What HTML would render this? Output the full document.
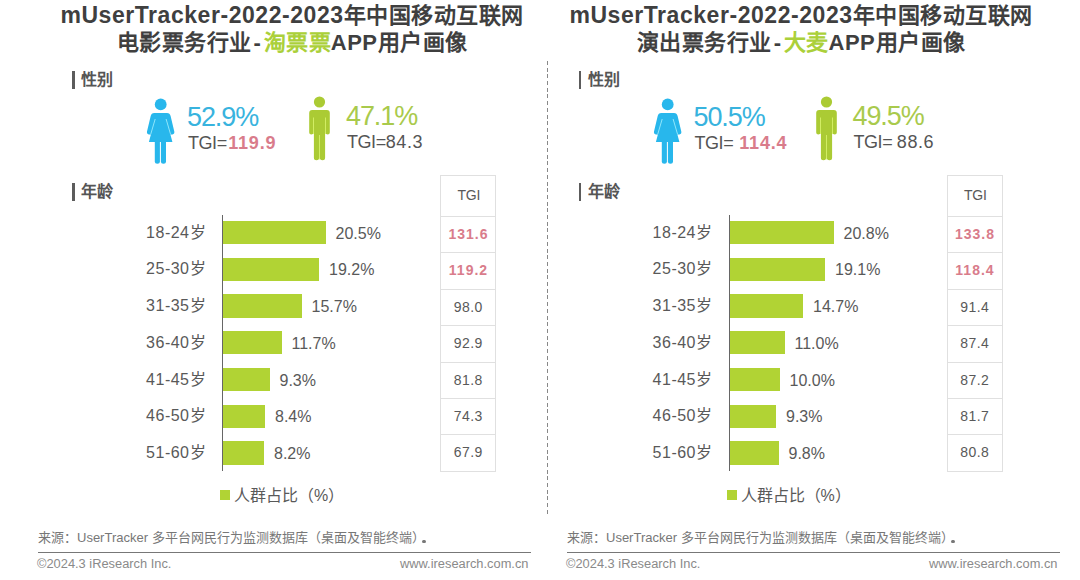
<!DOCTYPE html>
<html lang="zh-CN"><head><meta charset="utf-8"><style>
*{margin:0;padding:0;box-sizing:border-box}
html,body{width:1080px;height:580px;background:#fff;overflow:hidden}
body{position:relative;font-family:"Liberation Sans",sans-serif;color:#595959}
.a{position:absolute;white-space:nowrap}
.c{display:inline-block;text-align:center;letter-spacing:0;text-indent:0}
.panel{position:absolute;top:0;width:540px;height:580px}
.title{position:absolute;width:540px;text-align:center;font-weight:bold;font-size:22px;line-height:26px;color:#3f3f3f;letter-spacing:0.5px;white-space:nowrap}
.title .l{letter-spacing:0.55px;font-size:23px}
.title .d{margin:0 2px}
.title .g{color:#abd03a}
.sec{position:absolute;white-space:nowrap;left:72px;font-weight:bold;font-size:16px;line-height:18px;color:#555}
.sec i{position:absolute;left:0.3px;top:0;width:2.5px;height:18px;background:#5c5c5c}
.sec>span{position:absolute;left:9px;top:0}
.pct{position:absolute;white-space:nowrap;font-size:27px;line-height:26px;letter-spacing:-1.1px}
.tgi{position:absolute;white-space:nowrap;font-size:18px;line-height:20px;color:#555}
.tgi s{text-decoration:none;letter-spacing:-0.45px}
.tgi u{text-decoration:none;letter-spacing:0.6px}
.tgi b{color:#d97c8b;margin-left:1.5px;letter-spacing:0.8px}
.axis{position:absolute;left:222px;top:214.5px;width:1px;height:256px;background:#666}
.bar{position:absolute;left:223px;background:#b1d334}
.lab{position:absolute;width:60px;left:146px;text-align:right;font-size:16px;line-height:20px;color:#595959;letter-spacing:0.5px;white-space:nowrap}
.val{position:absolute;font-size:16px;line-height:20px;color:#595959;white-space:nowrap}
.tbl{position:absolute;left:440px;top:175px;width:56px;border:1px solid #e0e0e0}
.tbl div{border-top:1px solid #e0e0e0;text-align:center;font-size:14px;color:#595959;letter-spacing:0.4px;text-indent:0.4px}
.tbl div.r{color:#d97c8b;font-weight:bold;letter-spacing:1px;text-indent:1px}
.leg{position:absolute;left:220px;top:489.5px;width:10px;height:10px;background:#b1d334}
.legt{position:absolute;left:234px;font-size:16px;line-height:20px;color:#595959;white-space:nowrap}
.src{position:absolute;font-size:13px;line-height:14px;color:#777;white-space:nowrap}
.dot{display:inline-block;width:3.2px;height:3.2px;border-radius:50%;background:#777;margin-left:-2.3px;vertical-align:-1.2px}
.hr{position:absolute;height:1px;background:#777;top:552px;width:493px}
.copy{position:absolute;font-size:12.85px;line-height:14px;color:#8a8a8a;white-space:nowrap}
.dash{position:absolute;left:547px;top:61px;width:1px;height:456px;background:repeating-linear-gradient(to bottom,#888 0 4px,transparent 4px 6.7px)}
</style></head><body>
<div class="title" style="left:22px;top:2px"><span class="l">mUserTracker-2022-2023</span><span class="c" style="width:22.5px">年</span><span class="c" style="width:22.5px">中</span><span class="c" style="width:22.5px">国</span><span class="c" style="width:22.5px">移</span><span class="c" style="width:22.5px">动</span><span class="c" style="width:22.5px">互</span><span class="c" style="width:22.5px">联</span><span class="c" style="width:22.5px">网</span></div>
<div class="title" style="left:22px;top:30px"><span class="c" style="width:22.5px">电</span><span class="c" style="width:22.5px">影</span><span class="c" style="width:22.5px">票</span><span class="c" style="width:22.5px">务</span><span class="c" style="width:22.5px">行</span><span class="c" style="width:22.5px">业</span><span class="d">-</span><span class="g"><span class="c" style="width:22.5px">淘</span><span class="c" style="width:22.5px">票</span><span class="c" style="width:22.5px">票</span></span>APP<span class="c" style="width:22.5px">用</span><span class="c" style="width:22.5px">户</span><span class="c" style="width:22.5px">画</span><span class="c" style="width:22.5px">像</span></div>
<div class="title" style="left:531px;top:2px"><span class="l">mUserTracker-2022-2023</span><span class="c" style="width:22.5px">年</span><span class="c" style="width:22.5px">中</span><span class="c" style="width:22.5px">国</span><span class="c" style="width:22.5px">移</span><span class="c" style="width:22.5px">动</span><span class="c" style="width:22.5px">互</span><span class="c" style="width:22.5px">联</span><span class="c" style="width:22.5px">网</span></div>
<div class="title" style="left:531px;top:30px"><span class="c" style="width:22.5px">演</span><span class="c" style="width:22.5px">出</span><span class="c" style="width:22.5px">票</span><span class="c" style="width:22.5px">务</span><span class="c" style="width:22.5px">行</span><span class="c" style="width:22.5px">业</span><span class="d">-</span><span class="g"><span class="c" style="width:22.5px">大</span><span class="c" style="width:22.5px">麦</span></span>APP<span class="c" style="width:22.5px">用</span><span class="c" style="width:22.5px">户</span><span class="c" style="width:22.5px">画</span><span class="c" style="width:22.5px">像</span></div>
<div class="dash"></div>
<div class="panel" style="left:0px">
<div class="sec" style="top:71px"><i></i><span><span class="c" style="width:16px">性</span><span class="c" style="width:16px">别</span></span></div>
<div class="sec" style="top:183px"><i></i><span><span class="c" style="width:16px">年</span><span class="c" style="width:16px">龄</span></span></div>
<svg class="a" style="left:140px;top:92px" width="40" height="75" viewBox="140 92 40 75"><g fill="#28b7ec">
<circle cx="160.7" cy="104.4" r="5.9"/>
<path d="M154.3 113 L167 113 C169 113 170.1 114 170.6 116 L174.3 131.6 Q174.7 134.3 172.5 134.4 L170.4 134.4 L172.4 142.1 L148.9 142.1 L150.9 134.4 L148.8 134.4 Q146.6 134.3 147 131.6 L150.7 116 C151.2 114 152.3 113 154.3 113Z"/>
<path d="M154.8 141 L159.9 141 L159.9 161.2 Q159.9 163.7 157.35 163.7 Q154.8 163.7 154.8 161.2Z"/>
<path d="M160.9 141 L166 141 L166 161.2 Q166 163.7 163.45 163.7 Q160.9 163.7 160.9 161.2Z"/>
</g><g stroke="#8fe6fb" stroke-width="1" fill="none"><path d="M155.2 119 L150.7 134.4 M166.1 119 L170.6 134.4"/></g></svg>
<div class="pct" style="left:187px;top:104px;color:#38b3de">52.9%</div>
<div class="tgi" style="left:188px;top:133px"><s>TGI=</s><b>119.9</b></div>
<svg class="a" style="left:300px;top:92px" width="40" height="75" viewBox="300 92 40 75"><g fill="#abcb34">
<circle cx="319.5" cy="102" r="5.6"/>
<path d="M312.2 110 L326.8 110 Q329.8 110 329.8 113 L329.8 132.6 Q329.8 134.6 327.7 134.6 Q325.6 134.6 325.6 132.6 L325.1 132.6 L325.1 157.8 Q325.1 160.3 322.5 160.3 Q319.9 160.3 319.9 157.8 L319.1 157.8 Q319.1 160.3 316.5 160.3 Q313.9 160.3 313.9 157.8 L313.9 132.6 L313.4 132.6 Q313.4 134.6 311.3 134.6 Q309.2 134.6 309.2 132.6 L309.2 113 Q309.2 110 312.2 110Z"/>
</g><g stroke="#d6f06a" stroke-width="0.9" fill="none"><path d="M313.5 117.5 L313.5 134 M325.5 117.5 L325.5 134 M319.5 135 L319.5 159.5"/></g></svg>
<div class="pct" style="left:346px;top:103px;color:#a9ca4c">47.1%</div>
<div class="tgi" style="left:347px;top:132px"><s>TGI=</s><u>84.3</u></div>
<div class="axis"></div>
<div class="lab" style="top:222.7px">18-24<span class="c" style="width:16.5px">岁</span></div>
<div class="bar" style="top:221.0px;height:23.4px;width:102.5px"></div>
<div class="val" style="top:223.7px;left:335.5px">20.5%</div>
<div class="lab" style="top:259.4px">25-30<span class="c" style="width:16.5px">岁</span></div>
<div class="bar" style="top:257.7px;height:23.4px;width:96.0px"></div>
<div class="val" style="top:260.4px;left:329.0px">19.2%</div>
<div class="lab" style="top:296.1px">31-35<span class="c" style="width:16.5px">岁</span></div>
<div class="bar" style="top:294.4px;height:23.4px;width:78.5px"></div>
<div class="val" style="top:297.1px;left:311.5px">15.7%</div>
<div class="lab" style="top:332.8px">36-40<span class="c" style="width:16.5px">岁</span></div>
<div class="bar" style="top:331.1px;height:23.4px;width:58.5px"></div>
<div class="val" style="top:333.8px;left:291.5px">11.7%</div>
<div class="lab" style="top:369.5px">41-45<span class="c" style="width:16.5px">岁</span></div>
<div class="bar" style="top:367.8px;height:23.4px;width:46.5px"></div>
<div class="val" style="top:370.5px;left:279.5px">9.3%</div>
<div class="lab" style="top:406.2px">46-50<span class="c" style="width:16.5px">岁</span></div>
<div class="bar" style="top:404.5px;height:23.4px;width:42.0px"></div>
<div class="val" style="top:407.2px;left:275.0px">8.4%</div>
<div class="lab" style="top:442.9px">51-60<span class="c" style="width:16.5px">岁</span></div>
<div class="bar" style="top:441.2px;height:23.4px;width:41.0px"></div>
<div class="val" style="top:443.9px;left:274.0px">8.2%</div>
<div class="tbl"><div style="height:40px;line-height:39px;border-top:none;letter-spacing:-0.2px;text-indent:1.5px">TGI</div><div class="r" style="height:36.4px;line-height:35.4px">131.6</div><div class="r" style="height:36.4px;line-height:35.4px">119.2</div><div class="" style="height:36.4px;line-height:35.4px">98.0</div><div class="" style="height:36.4px;line-height:35.4px">92.9</div><div class="" style="height:36.4px;line-height:35.4px">81.8</div><div class="" style="height:36.4px;line-height:35.4px">74.3</div><div class="" style="height:36.4px;line-height:35.4px">67.9</div></div>
<div class="leg"></div>
<div class="legt" style="top:486px"><span class="c" style="width:16px">人</span><span class="c" style="width:16px">群</span><span class="c" style="width:16px">占</span><span class="c" style="width:16px">比</span><span class="c" style="width:16px">（</span>%<span class="c" style="width:16px">）</span></div>
</div>
<div class="panel" style="left:506.5px">
<div class="sec" style="top:71px"><i></i><span><span class="c" style="width:16px">性</span><span class="c" style="width:16px">别</span></span></div>
<div class="sec" style="top:183px"><i></i><span><span class="c" style="width:16px">年</span><span class="c" style="width:16px">龄</span></span></div>
<svg class="a" style="left:140px;top:92px" width="40" height="75" viewBox="140 92 40 75"><g fill="#28b7ec">
<circle cx="160.7" cy="104.4" r="5.9"/>
<path d="M154.3 113 L167 113 C169 113 170.1 114 170.6 116 L174.3 131.6 Q174.7 134.3 172.5 134.4 L170.4 134.4 L172.4 142.1 L148.9 142.1 L150.9 134.4 L148.8 134.4 Q146.6 134.3 147 131.6 L150.7 116 C151.2 114 152.3 113 154.3 113Z"/>
<path d="M154.8 141 L159.9 141 L159.9 161.2 Q159.9 163.7 157.35 163.7 Q154.8 163.7 154.8 161.2Z"/>
<path d="M160.9 141 L166 141 L166 161.2 Q166 163.7 163.45 163.7 Q160.9 163.7 160.9 161.2Z"/>
</g><g stroke="#8fe6fb" stroke-width="1" fill="none"><path d="M155.2 119 L150.7 134.4 M166.1 119 L170.6 134.4"/></g></svg>
<div class="pct" style="left:187px;top:104px;color:#38b3de">50.5%</div>
<div class="tgi" style="left:188px;top:133px"><s>TGI= </s><b>114.4</b></div>
<svg class="a" style="left:300px;top:92px" width="40" height="75" viewBox="300 92 40 75"><g fill="#abcb34">
<circle cx="319.5" cy="102" r="5.6"/>
<path d="M312.2 110 L326.8 110 Q329.8 110 329.8 113 L329.8 132.6 Q329.8 134.6 327.7 134.6 Q325.6 134.6 325.6 132.6 L325.1 132.6 L325.1 157.8 Q325.1 160.3 322.5 160.3 Q319.9 160.3 319.9 157.8 L319.1 157.8 Q319.1 160.3 316.5 160.3 Q313.9 160.3 313.9 157.8 L313.9 132.6 L313.4 132.6 Q313.4 134.6 311.3 134.6 Q309.2 134.6 309.2 132.6 L309.2 113 Q309.2 110 312.2 110Z"/>
</g><g stroke="#d6f06a" stroke-width="0.9" fill="none"><path d="M313.5 117.5 L313.5 134 M325.5 117.5 L325.5 134 M319.5 135 L319.5 159.5"/></g></svg>
<div class="pct" style="left:346px;top:103px;color:#a9ca4c">49.5%</div>
<div class="tgi" style="left:347px;top:132px"><s>TGI= </s><u>88.6</u></div>
<div class="axis"></div>
<div class="lab" style="top:222.7px">18-24<span class="c" style="width:16.5px">岁</span></div>
<div class="bar" style="top:221.0px;height:23.4px;width:104.0px"></div>
<div class="val" style="top:223.7px;left:337.0px">20.8%</div>
<div class="lab" style="top:259.4px">25-30<span class="c" style="width:16.5px">岁</span></div>
<div class="bar" style="top:257.7px;height:23.4px;width:95.5px"></div>
<div class="val" style="top:260.4px;left:328.5px">19.1%</div>
<div class="lab" style="top:296.1px">31-35<span class="c" style="width:16.5px">岁</span></div>
<div class="bar" style="top:294.4px;height:23.4px;width:73.5px"></div>
<div class="val" style="top:297.1px;left:306.5px">14.7%</div>
<div class="lab" style="top:332.8px">36-40<span class="c" style="width:16.5px">岁</span></div>
<div class="bar" style="top:331.1px;height:23.4px;width:55.0px"></div>
<div class="val" style="top:333.8px;left:288.0px">11.0%</div>
<div class="lab" style="top:369.5px">41-45<span class="c" style="width:16.5px">岁</span></div>
<div class="bar" style="top:367.8px;height:23.4px;width:50.0px"></div>
<div class="val" style="top:370.5px;left:283.0px">10.0%</div>
<div class="lab" style="top:406.2px">46-50<span class="c" style="width:16.5px">岁</span></div>
<div class="bar" style="top:404.5px;height:23.4px;width:46.5px"></div>
<div class="val" style="top:407.2px;left:279.5px">9.3%</div>
<div class="lab" style="top:442.9px">51-60<span class="c" style="width:16.5px">岁</span></div>
<div class="bar" style="top:441.2px;height:23.4px;width:49.0px"></div>
<div class="val" style="top:443.9px;left:282.0px">9.8%</div>
<div class="tbl"><div style="height:40px;line-height:39px;border-top:none;letter-spacing:-0.2px;text-indent:1.5px">TGI</div><div class="r" style="height:36.4px;line-height:35.4px">133.8</div><div class="r" style="height:36.4px;line-height:35.4px">118.4</div><div class="" style="height:36.4px;line-height:35.4px">91.4</div><div class="" style="height:36.4px;line-height:35.4px">87.4</div><div class="" style="height:36.4px;line-height:35.4px">87.2</div><div class="" style="height:36.4px;line-height:35.4px">81.7</div><div class="" style="height:36.4px;line-height:35.4px">80.8</div></div>
<div class="leg"></div>
<div class="legt" style="top:486px"><span class="c" style="width:16px">人</span><span class="c" style="width:16px">群</span><span class="c" style="width:16px">占</span><span class="c" style="width:16px">比</span><span class="c" style="width:16px">（</span>%<span class="c" style="width:16px">）</span></div>
</div>
<div class="src" style="left:38px;top:531px"><span class="c" style="width:13px">来</span><span class="c" style="width:13px">源</span><span class="c" style="width:13px">：</span>UserTracker <span class="c" style="width:13px">多</span><span class="c" style="width:13px">平</span><span class="c" style="width:13px">台</span><span class="c" style="width:13px">网</span><span class="c" style="width:13px">民</span><span class="c" style="width:13px">行</span><span class="c" style="width:13px">为</span><span class="c" style="width:13px">监</span><span class="c" style="width:13px">测</span><span class="c" style="width:13px">数</span><span class="c" style="width:13px">据</span><span class="c" style="width:13px">库</span><span class="c" style="width:13px">（</span><span class="c" style="width:13px">桌</span><span class="c" style="width:13px">面</span><span class="c" style="width:13px">及</span><span class="c" style="width:13px">智</span><span class="c" style="width:13px">能</span><span class="c" style="width:13px">终</span><span class="c" style="width:13px">端</span><span class="c" style="width:13px">）</span><i class="dot"></i></div>
<div class="hr" style="left:38px"></div>
<div class="copy" style="left:37px;top:557px">©2024.3 iResearch Inc.</div>
<div class="copy" style="left:400px;top:557px">www.iresearch.com.cn</div>
<div class="src" style="left:567px;top:531px"><span class="c" style="width:13px">来</span><span class="c" style="width:13px">源</span><span class="c" style="width:13px">：</span>UserTracker <span class="c" style="width:13px">多</span><span class="c" style="width:13px">平</span><span class="c" style="width:13px">台</span><span class="c" style="width:13px">网</span><span class="c" style="width:13px">民</span><span class="c" style="width:13px">行</span><span class="c" style="width:13px">为</span><span class="c" style="width:13px">监</span><span class="c" style="width:13px">测</span><span class="c" style="width:13px">数</span><span class="c" style="width:13px">据</span><span class="c" style="width:13px">库</span><span class="c" style="width:13px">（</span><span class="c" style="width:13px">桌</span><span class="c" style="width:13px">面</span><span class="c" style="width:13px">及</span><span class="c" style="width:13px">智</span><span class="c" style="width:13px">能</span><span class="c" style="width:13px">终</span><span class="c" style="width:13px">端</span><span class="c" style="width:13px">）</span><i class="dot"></i></div>
<div class="hr" style="left:567px"></div>
<div class="copy" style="left:566px;top:557px">©2024.3 iResearch Inc.</div>
<div class="copy" style="left:929px;top:557px">www.iresearch.com.cn</div>
</body></html>
